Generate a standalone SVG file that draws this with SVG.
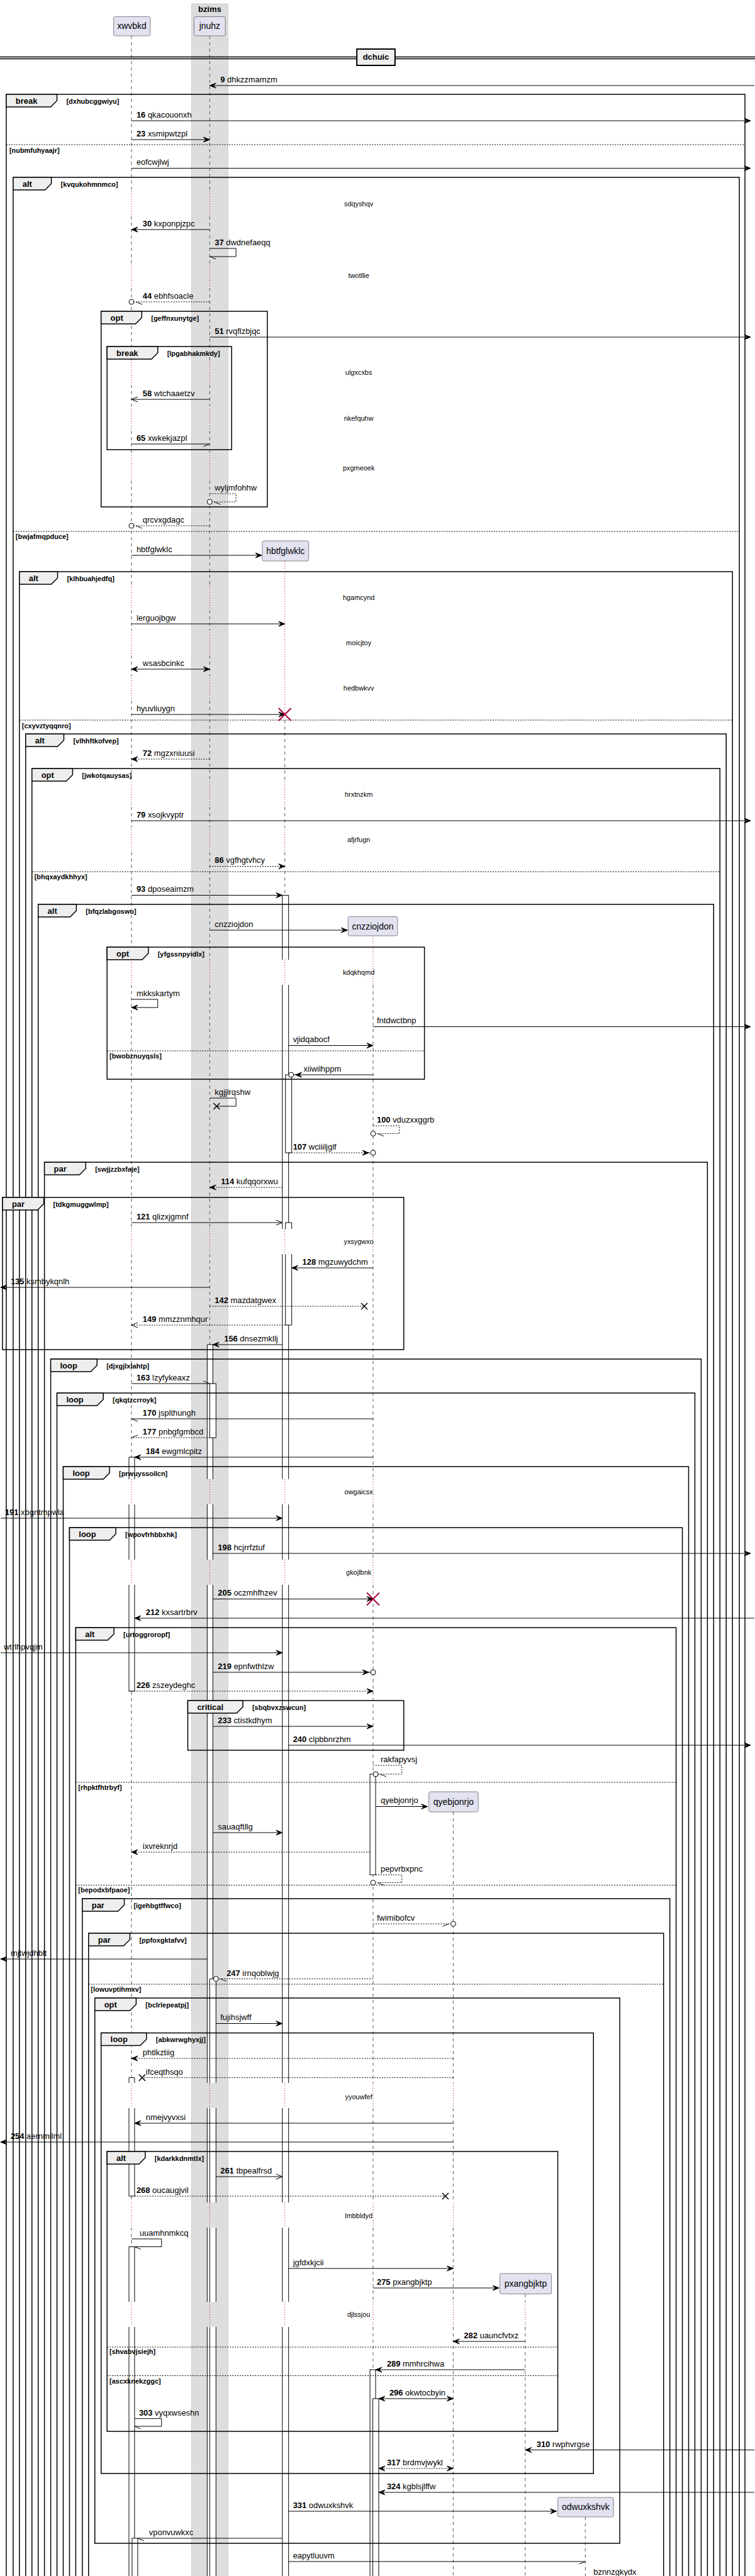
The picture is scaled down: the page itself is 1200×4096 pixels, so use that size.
<svg xmlns="http://www.w3.org/2000/svg" xmlns:xlink="http://www.w3.org/1999/xlink" width="1200" height="4096" viewBox="0 0 1200 4096">
<style>
text{font-family:"Liberation Sans",Arial,sans-serif;fill:#000}
.t{font-size:13px}
.b{font-weight:bold}
.g{font-size:11px;font-weight:bold}
.k{font-size:13px;font-weight:bold}
.d{font-size:11px;text-anchor:middle}
.pn{font-size:14px;text-anchor:middle}
.ll{stroke:#555;stroke-width:1;stroke-dasharray:5 5;fill:none}
.lg{stroke:#A80036;stroke-width:1;stroke-dasharray:1 3;fill:none}
.lp{stroke:#A80036;stroke-width:1;stroke-dasharray:1 3;fill:none}
.pb{fill:#E2E2F0;stroke:#181818;stroke-width:0.5}
.fr{fill:none;stroke:#000;stroke-width:1.5}
.tab{fill:#EEEEEE;stroke:#000;stroke-width:1.5}
.sep{fill:none;stroke:#000;stroke-width:1;stroke-dasharray:2 2}
.af{fill:#fff;stroke:none}
.al{fill:none;stroke:#000;stroke-width:1}
.ab{fill:#fff;stroke:#000;stroke-width:1}
.m{fill:none;stroke:#000;stroke-width:1}
.dt{stroke-dasharray:2 2}
.dx{fill:none;stroke:#A80036;stroke-width:2}
</style>
<defs>
<marker id="af" viewBox="-20 -10 40 20" refX="0" refY="0" markerWidth="40" markerHeight="20" markerUnits="userSpaceOnUse" orient="auto"><path d="M0,0L-10,-4L-6,0L-10,4Z" fill="#000" stroke="#000" stroke-width="1"/></marker>
<marker id="afs" viewBox="-20 -10 40 20" refX="0" refY="0" markerWidth="40" markerHeight="20" markerUnits="userSpaceOnUse" orient="auto-start-reverse"><path d="M0,0L-10,-4L-6,0L-10,4Z" fill="#000" stroke="#000" stroke-width="1"/></marker>
<marker id="ao" viewBox="-20 -10 40 20" refX="0" refY="0" markerWidth="40" markerHeight="20" markerUnits="userSpaceOnUse" orient="auto"><path d="M-10,-4L0,0L-10,4" fill="none" stroke="#000" stroke-width="1"/></marker>
<marker id="hA" viewBox="-20 -10 40 20" refX="0" refY="0" markerWidth="40" markerHeight="20" markerUnits="userSpaceOnUse" orient="auto"><path d="M0,0L-10,-4" fill="none" stroke="#000" stroke-width="1"/></marker>
<marker id="hB" viewBox="-20 -10 40 20" refX="0" refY="0" markerWidth="40" markerHeight="20" markerUnits="userSpaceOnUse" orient="auto"><path d="M0,0L-10,4" fill="none" stroke="#000" stroke-width="1"/></marker>
<marker id="cA" viewBox="-20 -10 40 20" refX="0" refY="0" markerWidth="40" markerHeight="20" markerUnits="userSpaceOnUse" orient="auto"><circle r="4" fill="#fff" stroke="#000" stroke-width="1"/><path d="M-7,0L-17,-4" fill="none" stroke="#000" stroke-width="1"/></marker>
<marker id="cB" viewBox="-20 -10 40 20" refX="0" refY="0" markerWidth="40" markerHeight="20" markerUnits="userSpaceOnUse" orient="auto"><circle r="4" fill="#fff" stroke="#000" stroke-width="1"/><path d="M-7,0L-17,4" fill="none" stroke="#000" stroke-width="1"/></marker>
<marker id="cF" viewBox="-20 -10 40 20" refX="0" refY="0" markerWidth="40" markerHeight="20" markerUnits="userSpaceOnUse" orient="auto"><circle r="4" fill="#fff" stroke="#000" stroke-width="1"/><path d="M-7,0L-17,-4L-13,0L-17,4Z" fill="#000" stroke="#000" stroke-width="1"/></marker>
<marker id="xx" viewBox="-20 -10 40 20" refX="0" refY="0" markerWidth="40" markerHeight="20" markerUnits="userSpaceOnUse" orient="auto"><path d="M-5,-5L5,5M-5,5L5,-5" fill="none" stroke="#000" stroke-width="1.5"/></marker>
<path id="llFull" d="M0,57V304M0,344V418M0,458V572M0,612V645M0,685V724M0,764V930M0,970V1002M0,1042V1074M0,1114V1243M0,1283V1315M0,1355V1526M0,1566V1954M0,1994V2352M0,2392V2480M0,2520V3312M0,3352V3502M0,3542V3660M0,3700V4096"/>
<path id="llDots" d="M0,304V344M0,418V458M0,572V612M0,645V685M0,724V764M0,930V970M0,1002V1042M0,1074V1114M0,1243V1283M0,1315V1355M0,1526V1566M0,1954V1994M0,2352V2392M0,2480V2520M0,3312V3352M0,3502V3542M0,3660V3700"/>
</defs>
<rect width="1200" height="4096" fill="#fff"/>
<g id="diagram" transform="scale(0.995 1)">
<g id="box-bzims">
<rect x="306" y="6" width="58" height="4100" fill="#DDDDDD" stroke="#AAAAAA" stroke-width="0.5"/>
<text class="k" x="335" y="19" text-anchor="middle">bzims</text>
</g>
<g id="lifelines">
<use xlink:href="#llFull" x="210" class="ll"/>
<use xlink:href="#llDots" x="210" class="lg"/>
<use xlink:href="#llFull" x="335" class="ll"/>
<use xlink:href="#llDots" x="335" class="lg"/>
<path class="ll" d="M455,1145V1243M455,1283V1315M455,1355V1526M455,1566V1954M455,1994V2352M455,2392V2480M455,2520V3312M455,3352V3502M455,3542V3660M455,3700V4096"/>
<path class="lp" d="M455,892V1136M455,1243V1283M455,1315V1355M455,1526V1566M455,1954V1994M455,2352V2392M455,2480V2520M455,3312V3352M455,3502V3542M455,3660V3700"/>
<path class="ll" d="M596,1566V1954M596,1994V2352M596,2392V2480M596,2520V3312M596,3352V3502M596,3542V3660M596,3700V4096"/>
<path class="lp" d="M596,1488V1566M596,1954V1994M596,2352V2392M596,2480V2520M596,3312V3352M596,3502V3542M596,3660V3700"/>
<path class="ll" d="M724,2881V3312M724,3352V3502M724,3542V3660M724,3700V4096"/>
<path class="lg" d="M724,3312V3352M724,3502V3542M724,3660V3700"/>
<path class="ll" d="M839,3648V3660M839,3700V4096"/>
<path class="lg" d="M839,3660V3700"/>
<path class="ll" d="M935,4002V4096"/>
</g>
<g id="p-xwvbkd"><rect class="pb" x="181.5" y="26.5" width="58.5" height="30.5" rx="2.5"/><text class="pn" x="210.5" y="46.5">xwvbkd</text></g>
<g id="p-jnuhz"><rect class="pb" x="310" y="26.5" width="50" height="30.5" rx="2.5"/><text class="pn" x="335" y="46.5">jnuhz</text></g>
<g id="p-hbtfglwklc"><rect class="pb" x="419" y="860" width="74" height="32" rx="2.5"/><text class="pn" x="456" y="881">hbtfglwklc</text></g>
<g id="p-cnzziojdon"><rect class="pb" x="556" y="1457.5" width="79" height="30.5" rx="2.5"/><text class="pn" x="595.5" y="1478">cnzziojdon</text></g>
<g id="p-qyebjonrjo"><rect class="pb" x="685" y="2849" width="79" height="32" rx="2.5"/><text class="pn" x="724.5" y="2870">qyebjonrjo</text></g>
<g id="p-pxangbjktp"><rect class="pb" x="798.5" y="3615" width="82.5" height="32.5" rx="2.5"/><text class="pn" x="839.75" y="3636">pxangbjktp</text></g>
<g id="p-odwuxkshvk"><rect class="pb" x="891" y="3971" width="89" height="31" rx="2.5"/><text class="pn" x="935.5" y="3991.5">odwuxkshvk</text></g>
<g id="divider-dchuic">
<path d="M0,90.5H1210M0,93.5H1210" stroke="#000" stroke-width="1.5" fill="none"/>
<rect x="570" y="78" width="61" height="26" fill="#EEEEEE" stroke="#000" stroke-width="2"/>
<text class="k" x="600.5" y="95.5" text-anchor="middle">dchuic</text>
</g>
<g id="delays">
<text class="d" x="573" y="328">sdqyshqv</text>
<text class="d" x="573" y="442">twotllie</text>
<text class="d" x="573" y="596">ulgxcxbs</text>
<text class="d" x="573" y="669">nkefquhw</text>
<text class="d" x="573" y="748">pxgmeoek</text>
<text class="d" x="573" y="954">hgamcynd</text>
<text class="d" x="573" y="1026">moicjtoy</text>
<text class="d" x="573" y="1098">hedbwkvv</text>
<text class="d" x="573" y="1267">hrxtnzkm</text>
<text class="d" x="573" y="1339">afjrfugn</text>
<text class="d" x="573" y="1550">kdqkhqmd</text>
<text class="d" x="573" y="1978">yxsygwxo</text>
<text class="d" x="573" y="2376">owgaicsx</text>
<text class="d" x="573" y="2504">gkojlbnk</text>
<text class="d" x="573" y="3338">yyouwfef</text>
<text class="d" x="573" y="3527">lmbbldyd</text>
<text class="d" x="573" y="3684">djlssjou</text>
</g>
<g id="activations">
<rect class="af" x="451" y="1423.5" width="10" height="102.5"/><rect class="af" x="451" y="1566" width="10" height="388"/><rect class="af" x="451" y="1994" width="10" height="358"/><rect class="af" x="451" y="2392" width="10" height="88"/><rect class="af" x="451" y="2520" width="10" height="792"/><rect class="af" x="451" y="3352" width="10" height="150"/><rect class="af" x="451" y="3542" width="10" height="118"/><rect class="af" x="451" y="3700" width="10" height="400"/>
<path class="al" d="M451,1423.5H461M451,1423.5V1526M461,1423.5V1526M451,1566V1954M461,1566V1954M451,1994V2352M461,1994V2352M451,2392V2480M461,2392V2480M451,2520V3312M461,2520V3312M451,3352V3502M461,3352V3502M451,3542V3660M461,3542V3660M451,3700V4100M461,3700V4100"/>
<rect class="ab" x="456" y="1709" width="10" height="124"/>
<rect class="af" x="456" y="1944" width="10" height="10"/><rect class="af" x="456" y="1994" width="10" height="113"/>
<path class="al" d="M456,1944H466M456,1944V1954M466,1944V1954M456,1994V2107H466V1994"/>
<rect class="af" x="331" y="2138" width="9" height="214"/><rect class="af" x="331" y="2392" width="9" height="88"/><rect class="af" x="331" y="2520" width="9" height="792"/><rect class="af" x="331" y="3352" width="9" height="150"/><rect class="af" x="331" y="3542" width="9" height="118"/><rect class="af" x="331" y="3700" width="9" height="400"/>
<path class="al" d="M331,2138H340M331,2138V2352M340,2138V2352M331,2392V2480M340,2392V2480M331,2520V3312M340,2520V3312M331,3352V3502M340,3352V3502M331,3542V3660M340,3542V3660M331,3700V4100M340,3700V4100"/>
<rect class="ab" x="335" y="2200" width="10" height="86"/>
<rect class="af" x="206" y="2317" width="9" height="35"/><rect class="af" x="206" y="2392" width="9" height="88"/><rect class="af" x="206" y="2520" width="9" height="169"/>
<path class="al" d="M206,2317H215M206,2317V2352M215,2317V2352M206,2392V2480M215,2392V2480M206,2520V2689H215V2520"/>
<rect class="ab" x="591" y="2821" width="9" height="160"/>
<rect class="af" x="335" y="3146.5" width="10" height="165.5"/><rect class="af" x="335" y="3352" width="10" height="150"/><rect class="af" x="335" y="3542" width="10" height="118"/><rect class="af" x="335" y="3700" width="10" height="400"/>
<path class="al" d="M335,3146.5H345M335,3146.5V3312M345,3146.5V3312M335,3352V3502M345,3352V3502M335,3542V3660M345,3542V3660M335,3700V4100M345,3700V4100"/>
<rect class="af" x="206" y="3303.6" width="9" height="8.4"/><rect class="af" x="206" y="3352" width="9" height="140"/>
<path class="al" d="M206,3303.6H215M206,3303.6V3312M215,3303.6V3312M206,3352V3492H215V3352"/>
<rect class="af" x="206" y="3572.5" width="9" height="87.5"/><rect class="af" x="206" y="3700" width="9" height="400"/>
<path class="al" d="M206,3572.5H215M206,3572.5V3660M215,3572.5V3660M206,3700V4100M215,3700V4100"/>
<rect class="ab" x="591" y="3768" width="9" height="340"/>
<rect class="ab" x="595.5" y="3814" width="9.5" height="300"/>
<rect class="ab" x="211" y="4036" width="9" height="80"/>
</g>
<g id="frames">
<g id="f-break-dxhubcggwiyu"><rect class="fr" x="10" y="150" width="1180" height="3960"/><path class="tab" d="M10,150H91V160L81,170H10Z"/><text class="k" x="25" y="165">break</text><text class="g" x="106" y="165">[dxhubcggwiyu]</text><path class="sep" d="M10,230H1190"/><text class="g" x="15" y="243">[nubmfuhyaajr]</text></g>
<g id="f-alt-kvqukohmnmco"><rect class="fr" x="21" y="282" width="1160" height="3828"/><path class="tab" d="M21,282H82V292L72,302H21Z"/><text class="k" x="36" y="297">alt</text><text class="g" x="97" y="297">[kvqukohmnmco]</text><path class="sep" d="M21,845H1181"/><text class="g" x="25" y="857">[bwjafmqpduce]</text></g>
<g id="f-opt-geffnxunytge"><rect class="fr" x="161.5" y="495" width="265.5" height="311"/><path class="tab" d="M161.5,495H226.5V505L216.5,515H161.5Z"/><text class="k" x="176.5" y="510">opt</text><text class="g" x="241.5" y="510">[geffnxunytge]</text></g>
<g id="f-break-lpgabhakmkdy"><rect class="fr" x="171" y="551" width="199" height="164"/><path class="tab" d="M171,551H252V561L242,571H171Z"/><text class="k" x="186" y="566">break</text><text class="g" x="267" y="566">[lpgabhakmkdy]</text></g>
<g id="f-alt-klhbuahjedfq"><rect class="fr" x="31" y="909" width="1139" height="3201"/><path class="tab" d="M31,909H92V919L82,929H31Z"/><text class="k" x="46" y="924">alt</text><text class="g" x="107" y="924">[klhbuahjedfq]</text><path class="sep" d="M31,1145H1170"/><text class="g" x="35" y="1158">[cxyvztyqqnro]</text></g>
<g id="f-alt-vlhhftkofvep"><rect class="fr" x="41" y="1167" width="1119" height="2943"/><path class="tab" d="M41,1167H102V1177L92,1187H41Z"/><text class="k" x="56" y="1182">alt</text><text class="g" x="117" y="1182">[vlhhftkofvep]</text></g>
<g id="f-opt-jwkotqauysas"><rect class="fr" x="51" y="1222" width="1099" height="2888"/><path class="tab" d="M51,1222H116V1232L106,1242H51Z"/><text class="k" x="66" y="1237">opt</text><text class="g" x="131" y="1237">[jwkotqauysas]</text><path class="sep" d="M51,1386H1150"/><text class="g" x="55" y="1398">[bhqxaydkhhyx]</text></g>
<g id="f-alt-bfqzlabgoswu"><rect class="fr" x="61" y="1438" width="1079" height="2672"/><path class="tab" d="M61,1438H122V1448L112,1458H61Z"/><text class="k" x="76" y="1453">alt</text><text class="g" x="137" y="1453">[bfqzlabgoswu]</text></g>
<g id="f-opt-yfgssnpyidlx"><rect class="fr" x="171" y="1506" width="507" height="210"/><path class="tab" d="M171,1506H237V1516L227,1526H171Z"/><text class="k" x="186" y="1521">opt</text><text class="g" x="252" y="1521">[yfgssnpyidlx]</text><path class="sep" d="M171,1671H678"/><text class="g" x="175" y="1683">[bwobznuyqsls]</text></g>
<g id="f-par-swjjzzbxfaje"><rect class="fr" x="71" y="1848" width="1059" height="2262"/><path class="tab" d="M71,1848H137V1858L127,1868H71Z"/><text class="k" x="86" y="1863">par</text><text class="g" x="152" y="1863">[swjjzzbxfaje]</text></g>
<g id="f-par-tdkgmuggwlmp"><rect class="fr" x="4" y="1904" width="641" height="242"/><path class="tab" d="M4,1904H70V1914L60,1924H4Z"/><text class="k" x="19" y="1919">par</text><text class="g" x="85" y="1919">[tdkgmuggwlmp]</text></g>
<g id="f-loop-djxgjlxlahtp"><rect class="fr" x="81" y="2161" width="1039" height="1949"/><path class="tab" d="M81,2161H155V2171L145,2181H81Z"/><text class="k" x="96" y="2176">loop</text><text class="g" x="170" y="2176">[djxgjlxlahtp]</text></g>
<g id="f-loop-qkqtzcrroyk"><rect class="fr" x="91" y="2215" width="1019" height="1895"/><path class="tab" d="M91,2215H165V2225L155,2235H91Z"/><text class="k" x="106" y="2230">loop</text><text class="g" x="180" y="2230">[qkqtzcrroyk]</text></g>
<g id="f-loop-prwuyssoilcn"><rect class="fr" x="101" y="2332" width="999" height="1778"/><path class="tab" d="M101,2332H175V2342L165,2352H101Z"/><text class="k" x="116" y="2347">loop</text><text class="g" x="190" y="2347">[prwuyssoilcn]</text></g>
<g id="f-loop-wpovfrhbbxhk"><rect class="fr" x="111" y="2429" width="979" height="1681"/><path class="tab" d="M111,2429H185V2439L175,2449H111Z"/><text class="k" x="126" y="2444">loop</text><text class="g" x="200" y="2444">[wpovfrhbbxhk]</text></g>
<g id="f-alt-urtoggroropf"><rect class="fr" x="121" y="2588" width="959" height="1522"/><path class="tab" d="M121,2588H182V2598L172,2608H121Z"/><text class="k" x="136" y="2603">alt</text><text class="g" x="197" y="2603">[urtoggroropf]</text><path class="sep" d="M121,2834H1080"/><text class="g" x="125" y="2846">[rhpktfhtrbyf]</text><path class="sep" d="M121,2997.5H1080"/><text class="g" x="125" y="3009">[bepodxbfpaoe]</text></g>
<g id="f-critical-sbqbvxzswcun"><rect class="fr" x="300" y="2704" width="345" height="79"/><path class="tab" d="M300,2704H388V2714L378,2724H300Z"/><text class="k" x="315" y="2719">critical</text><text class="g" x="403" y="2719">[sbqbvxzswcun]</text></g>
<g id="f-par-igehbgtffwco"><rect class="fr" x="131.5" y="3019" width="938.5" height="1091"/><path class="tab" d="M131.5,3019H198.5V3029L188.5,3039H131.5Z"/><text class="k" x="146.5" y="3034">par</text><text class="g" x="213.5" y="3034">[igehbgtffwco]</text></g>
<g id="f-par-ppfoxgktafvv"><rect class="fr" x="141.5" y="3074" width="918.5" height="1036"/><path class="tab" d="M141.5,3074H207.5V3084L197.5,3094H141.5Z"/><text class="k" x="156.5" y="3089">par</text><text class="g" x="222.5" y="3089">[ppfoxgktafvv]</text><path class="sep" d="M141.5,3155H1060"/><text class="g" x="145" y="3167">[lowuvptihmxv]</text></g>
<g id="f-opt-bclrlepeatpj"><rect class="fr" x="151.5" y="3177" width="838.5" height="867"/><path class="tab" d="M151.5,3177H217.5V3187L207.5,3197H151.5Z"/><text class="k" x="166.5" y="3192">opt</text><text class="g" x="232.5" y="3192">[bclrlepeatpj]</text></g>
<g id="f-loop-abkwrwghyxjj"><rect class="fr" x="161.5" y="3232.5" width="786.5" height="700.5"/><path class="tab" d="M161.5,3232.5H234V3242.5L224,3252.5H161.5Z"/><text class="k" x="176.5" y="3247.5">loop</text><text class="g" x="249" y="3247.5">[abkwrwghyxjj]</text></g>
<g id="f-alt-kdarkkdnmtlx"><rect class="fr" x="171" y="3421" width="720" height="445"/><path class="tab" d="M171,3421H232V3431L222,3441H171Z"/><text class="k" x="186" y="3436">alt</text><text class="g" x="247" y="3436">[kdarkkdnmtlx]</text><path class="sep" d="M171,3732H891"/><text class="g" x="175" y="3743">[shvabvjsiejh]</text><path class="sep" d="M171,3777.5H891"/><text class="g" x="175" y="3790">[ascxknekzggc]</text></g>
</g>
<g id="connectors">
<path class="m" d="M1205,136H335" marker-end="url(#af)"/><text class="t" x="352" y="131"><tspan class="b">9</tspan> dhkzzmamzm</text>
<path class="m" d="M210,192H1199" marker-end="url(#af)"/><text class="t" x="218" y="187"><tspan class="b">16</tspan> qkacouonxh</text>
<path class="m" d="M210,222H335" marker-end="url(#af)"/><text class="t" x="218" y="217"><tspan class="b">23</tspan> xsmipwtzpl</text>
<path class="m" d="M210,267.5H1199" marker-end="url(#af)"/><text class="t" x="218" y="262.5">eofcwjlwj</text>
<path class="m" d="M335,365H210" marker-end="url(#af)"/><text class="t" x="228" y="360"><tspan class="b">30</tspan> kxponpjzpc</text>
<path class="m" d="M335,395H377V408H335" marker-end="url(#hA)"/><text class="t" x="343" y="390"><tspan class="b">37</tspan> dwdnefaeqq</text>
<path class="m dt" d="M335,480H210" marker-end="url(#cA)"/><text class="t" x="228" y="475"><tspan class="b">44</tspan> ebhfsoacle</text>
<path class="m" d="M335,536H1199" marker-end="url(#af)"/><text class="t" x="343" y="531"><tspan class="b">51</tspan> rvqflzbjqc</text>
<path class="m" d="M335,635H210" marker-end="url(#ao)"/><text class="t" x="228" y="630"><tspan class="b">58</tspan> wtchaaetzv</text>
<path class="m" d="M210,706H335" marker-end="url(#hB)"/><text class="t" x="218" y="701"><tspan class="b">65</tspan> xwkekjazpl</text>
<path class="m dt" d="M335,785H377V798H335" marker-end="url(#cA)"/><text class="t" x="343" y="780">wyljmfohhw</text>
<path class="m dt" d="M335,836H210" marker-end="url(#cA)"/><text class="t" x="228" y="831">qrcvxgdagc</text>
<path class="m" d="M210,883H418" marker-end="url(#af)"/><text class="t" x="218" y="878">hbtfglwklc</text>
<path class="m" d="M210,992H455" marker-end="url(#af)"/><text class="t" x="218" y="987">lerguojbgw</text>
<path class="m" d="M210,1064H335" marker-start="url(#afs)" marker-end="url(#af)"/><text class="t" x="228" y="1059">wsasbcinkc</text>
<path class="m" d="M210,1136H455" marker-end="url(#af)"/><text class="t" x="218" y="1131">hyuvliuygn</text>
<path class="dx" d="M445,1126L465,1146M445,1146L465,1126"/>
<path class="m dt" d="M335,1207H210" marker-end="url(#af)"/><text class="t" x="228" y="1202"><tspan class="b">72</tspan> mgzxniuusi</text>
<path class="m" d="M210,1305H1199" marker-end="url(#af)"/><text class="t" x="218" y="1300"><tspan class="b">79</tspan> xsojkvyptr</text>
<path class="m dt" d="M335,1377.5H455" marker-end="url(#af)"/><text class="t" x="343" y="1372.5"><tspan class="b">86</tspan> vgfhgtvhcy</text>
<path class="m" d="M210,1423.5H451" marker-end="url(#af)"/><text class="t" x="218" y="1418.5"><tspan class="b">93</tspan> dposeaimzm</text>
<path class="m" d="M335,1479H555" marker-end="url(#af)"/><text class="t" x="343" y="1474">cnzziojdon</text>
<path class="m" d="M210,1589H252V1602H210" marker-end="url(#af)"/><text class="t" x="218" y="1584">mkkskartym</text>
<path class="m" d="M596,1632.5H1199" marker-end="url(#af)"/><text class="t" x="602" y="1627.5">fntdwctbnp</text>
<path class="m" d="M461,1662.5H596" marker-end="url(#af)"/><text class="t" x="468" y="1657.5">vjidqabocf</text>
<path class="m" d="M596,1709H465" marker-end="url(#cF)"/><text class="t" x="485" y="1704">xiiwilhppm</text>
<path class="m" d="M335,1746H377V1759H346" marker-end="url(#xx)"/><text class="t" x="343" y="1741">kgjjlrqshw</text>
<path class="m dt" d="M596,1790H638V1802.5H596" marker-end="url(#cA)"/><text class="t" x="602" y="1785"><tspan class="b">100</tspan> vduzxxggrb</text>
<path class="m dt" d="M461,1833H596" marker-end="url(#cF)"/><text class="t" x="468" y="1828"><tspan class="b">107</tspan> wciiiljglf</text>
<path class="m dt" d="M451,1888H335" marker-end="url(#af)"/><text class="t" x="353" y="1883"><tspan class="b">114</tspan> kufqqorxwu</text>
<path class="m" d="M210,1944H451" marker-end="url(#ao)"/><text class="t" x="218" y="1939"><tspan class="b">121</tspan> qlizxjgmnf</text>
<path class="m" d="M596,2016H466" marker-end="url(#af)"/><text class="t" x="483" y="2011"><tspan class="b">128</tspan> mgzuwydchm</text>
<path class="m" d="M335,2047H1" marker-end="url(#af)"/><text class="t" x="17" y="2042"><tspan class="b">135</tspan> ksmbykqnlh</text>
<path class="m dt" d="M335,2077H582" marker-end="url(#xx)"/><text class="t" x="343" y="2072"><tspan class="b">142</tspan> mazdatgwex</text>
<path class="m dt" d="M456,2107H210" marker-end="url(#ao)"/><text class="t" x="228" y="2102"><tspan class="b">149</tspan> mmzznmhqur</text>
<path class="m" d="M451,2138H340" marker-end="url(#af)"/><text class="t" x="358" y="2133"><tspan class="b">156</tspan> dnsezmkllj</text>
<path class="m" d="M210,2200H335" marker-end="url(#hA)"/><text class="t" x="218" y="2195"><tspan class="b">163</tspan> lzyfykeaxz</text>
<path class="m" d="M596,2256H210" marker-end="url(#hA)"/><text class="t" x="228" y="2251"><tspan class="b">170</tspan> jsplthungh</text>
<path class="m dt" d="M335,2286H210" marker-end="url(#hB)"/><text class="t" x="228" y="2281"><tspan class="b">177</tspan> pnbgfgmbcd</text>
<path class="m" d="M596,2317H215" marker-end="url(#af)"/><text class="t" x="233" y="2312"><tspan class="b">184</tspan> ewgmlcpitz</text>
<path class="m" d="M1,2414H451" marker-end="url(#af)"/><text class="t" x="8" y="2409"><tspan class="b">191</tspan> xbgntmpwla</text>
<path class="m" d="M340,2470H1199" marker-end="url(#af)"/><text class="t" x="348" y="2465"><tspan class="b">198</tspan> hcjrrfztuf</text>
<path class="m" d="M340,2542.5H596" marker-end="url(#af)"/><text class="t" x="348" y="2537.5"><tspan class="b">205</tspan> oczmhfhzev</text>
<path class="dx" d="M586,2532.5L606,2552.5M586,2552.5L606,2532.5"/>
<path class="m" d="M1205,2573H215" marker-end="url(#af)"/><text class="t" x="233" y="2568"><tspan class="b">212</tspan> kxsartrbrv</text>
<path class="m" d="M1,2628H451" marker-end="url(#af)"/><text class="t" x="6" y="2623">wtrlhpvqjm</text>
<path class="m" d="M340,2659H596" marker-end="url(#cF)"/><text class="t" x="348" y="2654"><tspan class="b">219</tspan> epnfwthlzw</text>
<path class="m dt" d="M206,2689H596" marker-end="url(#af)"/><text class="t" x="218" y="2684"><tspan class="b">226</tspan> zszeydeghc</text>
<path class="m" d="M340,2745H596" marker-end="url(#af)"/><text class="t" x="348" y="2740"><tspan class="b">233</tspan> ctistkdhym</text>
<path class="m" d="M461,2775H1199" marker-end="url(#af)"/><text class="t" x="468" y="2770"><tspan class="b">240</tspan> clpbbnrzhm</text>
<path class="m dt" d="M596,2807H642V2821H600" marker-end="url(#cA)"/><text class="t" x="608" y="2802">rakfapyvsj</text>
<path class="m" d="M600,2872.5H683" marker-end="url(#af)"/><text class="t" x="608" y="2867.5">qyebjonrjo</text>
<path class="m" d="M340,2914H451" marker-end="url(#af)"/><text class="t" x="348" y="2909">sauaqftllg</text>
<path class="m dt" d="M591,2945H210" marker-end="url(#af)"/><text class="t" x="228" y="2940">ixvreknrjd</text>
<path class="m dt" d="M600,2981H642V2993.5H596" marker-end="url(#cA)"/><text class="t" x="608" y="2976">pepvrbxpnc</text>
<path class="m dt" d="M596,3059H724" marker-end="url(#cB)"/><text class="t" x="602" y="3054">fwimibofcv</text>
<path class="m" d="M331,3115H1" marker-end="url(#af)"/><text class="t" x="17" y="3110">mjtwjdhblt</text>
<path class="m dt" d="M596,3146.5H345" marker-end="url(#cA)"/><text class="t" x="362" y="3141.5"><tspan class="b">247</tspan> irnqoblwjg</text>
<path class="m" d="M345,3217.5H451" marker-end="url(#af)"/><text class="t" x="352" y="3212.5">fujihsjwff</text>
<path class="m dt" d="M724,3273H210" marker-end="url(#af)"/><text class="t" x="228" y="3268">phtlkztiig</text>
<path class="m dt" d="M724,3303.6H227" marker-end="url(#xx)"/><text class="t" x="233" y="3298.6">ifceqthsqo</text>
<path class="m" d="M724,3376H215" marker-end="url(#af)"/><text class="t" x="233" y="3371">nmejvyvxsi</text>
<path class="m" d="M724,3406H1" marker-end="url(#af)"/><text class="t" x="17" y="3401"><tspan class="b">254</tspan> aernmilml</text>
<path class="m" d="M345,3461H451" marker-end="url(#ao)"/><text class="t" x="352" y="3456"><tspan class="b">261</tspan> tbpealfrsd</text>
<path class="m dt" d="M215,3492H711.5" marker-end="url(#xx)"/><text class="t" x="218" y="3487"><tspan class="b">268</tspan> oucaugjvil</text>
<path class="m" d="M210,3560H258V3572.5H215" marker-end="url(#hA)"/><text class="t" x="223" y="3555">uuamhnmkcq</text>
<path class="m" d="M461,3607H724" marker-end="url(#af)"/><text class="t" x="468" y="3602">jgfdxkjcii</text>
<path class="m" d="M596,3638H797" marker-end="url(#af)"/><text class="t" x="602" y="3633"><tspan class="b">275</tspan> pxangbjktp</text>
<path class="m" d="M839,3723H724" marker-end="url(#af)"/><text class="t" x="741" y="3718"><tspan class="b">282</tspan> uauncfvtxz</text>
<path class="m" d="M839,3768H600" marker-end="url(#af)"/><text class="t" x="618" y="3763"><tspan class="b">289</tspan> mmhrcihwa</text>
<path class="m" d="M605,3814H724" marker-start="url(#afs)" marker-end="url(#af)"/><text class="t" x="622" y="3809"><tspan class="b">296</tspan> okwtocbyin</text>
<path class="m" d="M215,3845.7H258V3858H215" marker-end="url(#hA)"/><text class="t" x="222" y="3840.7"><tspan class="b">303</tspan> vyqxwseshn</text>
<path class="m" d="M1205,3895.6H839" marker-end="url(#af)"/><text class="t" x="857" y="3890.6"><tspan class="b">310</tspan> rwphvrgse</text>
<path class="m dt" d="M605,3925H724" marker-start="url(#afs)" marker-end="url(#af)"/><text class="t" x="618" y="3920"><tspan class="b">317</tspan> brdmvjwykl</text>
<path class="m" d="M1205,3963H605" marker-end="url(#af)"/><text class="t" x="618" y="3958"><tspan class="b">324</tspan> kgblsjlffw</text>
<path class="m" d="M461,3993H889" marker-end="url(#af)"/><text class="t" x="468" y="3988"><tspan class="b">331</tspan> odwuxkshvk</text>
<path class="m" d="M451,4036H220" marker-end="url(#hA)"/><text class="t" x="238" y="4031">vponvuwkxc</text>
<path class="m" d="M461,4073H935" marker-end="url(#hB)"/><text class="t" x="468" y="4068">eapytluuvm</text>
<text class="t" x="948" y="4094">bznnzgkydx</text>
</g>
</g>
</svg>
